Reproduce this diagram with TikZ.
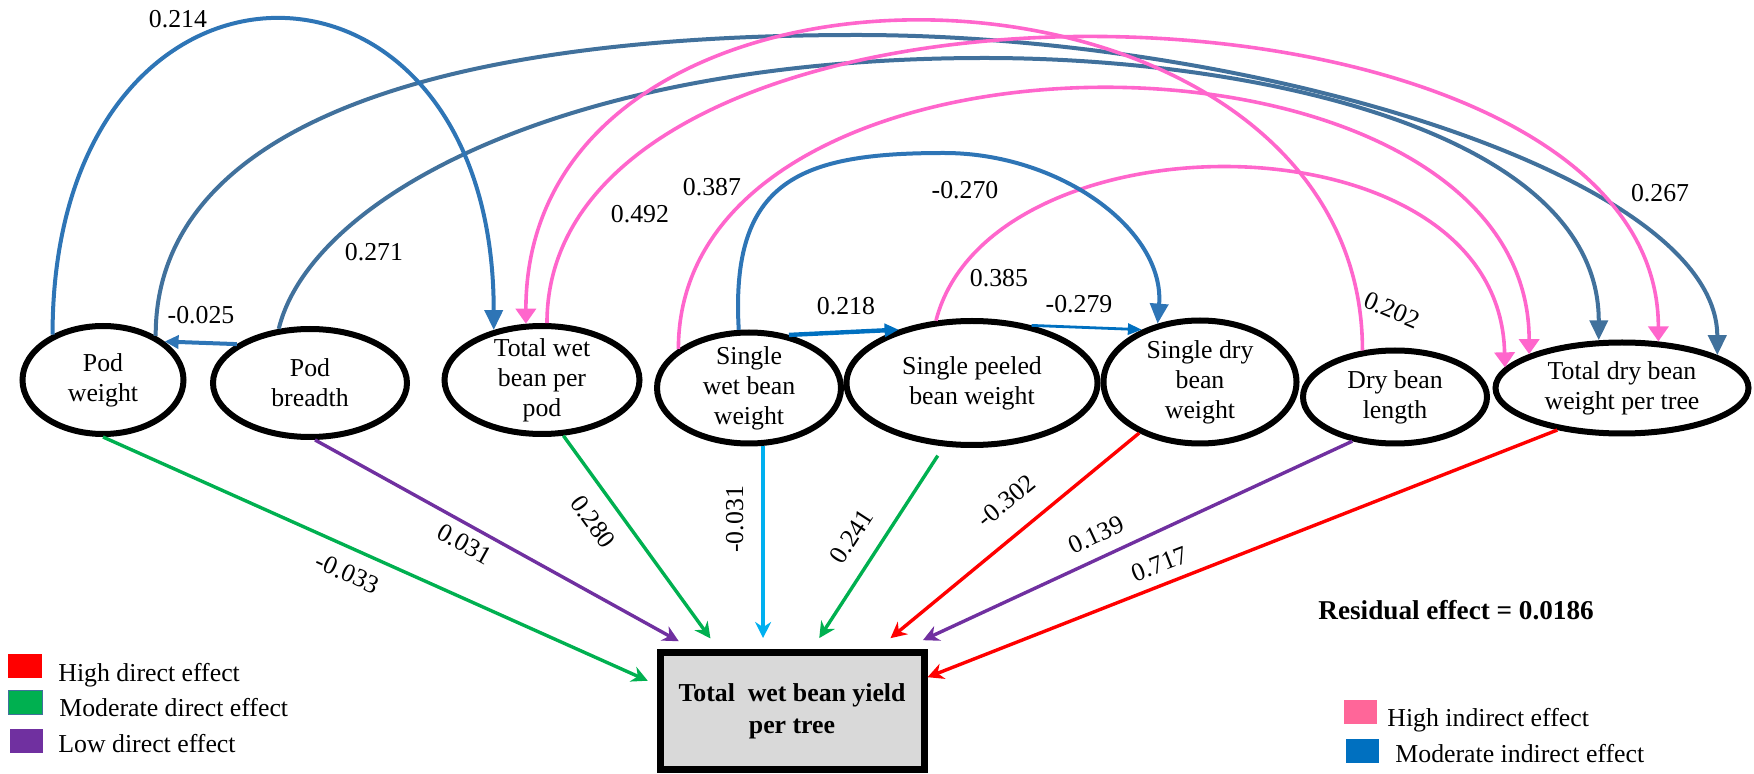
\documentclass[tikz,border=0pt]{standalone}
\usepackage{fontspec}
\setmainfont{Liberation Serif}
\setsansfont{Liberation Serif}
\newfontfamily\timesfont{Liberation Serif}
\usetikzlibrary{shapes.geometric,arrows.meta}
\definecolor{dred}{HTML}{FF0000}
\definecolor{dgreen}{HTML}{00B050}
\definecolor{dpurple}{HTML}{7030A0}
\definecolor{dcyan}{HTML}{00B0F0}
\definecolor{ipink}{HTML}{FF66CC}
\definecolor{iblue}{HTML}{2E75B6}
\definecolor{isteel}{HTML}{41719C}
\definecolor{ideep}{HTML}{0070C0}
\definecolor{keypink}{HTML}{FF6699}
\definecolor{boxgray}{HTML}{D9D9D9}
\begin{document}
\begin{tikzpicture}[x=0.5pt,y=-0.5pt,font=\timesfont\fontsize{12.9}{15}\selectfont]
  \tikzstyle{trait}=[ellipse,draw=black,fill=white,line width=3pt,inner sep=-3pt,align=center]
  \tikzstyle{yieldbox}=[rectangle,draw=black,fill=boxgray,line width=3.5pt,align=center,font=\timesfont\fontsize{12.9}{16}\selectfont\bfseries]
  \tikzstyle{direct}=[line width=1.7pt,-{Stealth[length=8pt,width=8pt]}]
  \tikzstyle{indirect}=[line width=1.8pt,-{Triangle[length=7.5pt,width=10pt]}]
  \tikzstyle{moderate}=[line width=2pt,-{Triangle[length=10pt,width=9pt]}]
  \tikzstyle{coef}=[inner sep=1pt,text=black]
  \tikzstyle{swatch}=[rectangle,inner sep=0pt,minimum width=17pt,minimum height=12pt]
  \tikzstyle{keytext}=[inner sep=0pt,anchor=base west]
  \useasboundingbox (0,0) rectangle (1754,774);

  \node[trait, minimum width=80.5pt, minimum height=54pt] (pw) at (103,380) {Pod\\weight};
  \node[trait, minimum width=97pt, minimum height=54pt] (pb) at (310,383) {Pod\\breadth};
  \node[trait, minimum width=97.5pt, minimum height=54pt] (twb) at (542,380) {Total wet\\bean per\\pod};
  \node[trait, minimum width=92pt, minimum height=55.5pt] (sw) at (749,388) {Single\\wet bean\\weight};
  \node[trait, minimum width=125.5pt, minimum height=62pt] (sp) at (972,383) {Single peeled\\bean weight};
  \node[trait, minimum width=96.5pt, minimum height=61.5pt] (sd) at (1200,382) {Single dry\\bean\\weight};
  \node[trait, minimum width=92pt, minimum height=46.5pt] (dbl) at (1395,397) {Dry bean\\length};
  \node[trait, minimum width=126.5pt, minimum height=45.5pt] (tdb) at (1622,388) {Total dry bean\\weight per tree};
  \node[yieldbox, minimum width=132pt, minimum height=58.5pt] (box) at (792,711) {Total\ \ wet bean yield\\per tree};

  \draw[direct, dgreen, shorten >=4.8pt] (pw.south) -- node[coef, pos=0.46, sloped, below=6pt] (l033) {-0.033} (box.169);
  \draw[direct, dpurple, shorten >=8pt] (pb.-85) -- node[coef, pos=0.42, sloped, below=3pt] (l031) {0.031} (box.148);
  \draw[direct, dgreen, shorten >=6.5pt] (twb.-69) -- node[coef, pos=0.33, sloped, below=7pt] (l280) {0.280} (box.140);
  \draw[direct, dcyan, {Stealth[length=8pt,width=8pt]}-, shorten <=5.5pt] (box.115) -- node[coef, pos=0.64, sloped, above=8pt] (l031v) {-0.031} (box.115 |- sw.south);
  \draw[direct, dgreen, shorten <=5.5pt, shorten >=6.5pt] (sp.-114) -- node[coef, pos=0.52, sloped, above=8pt] (l241) {0.241} (box.72);
  \draw[direct, dred, shorten >=8.5pt] (sd.-140) -- node[coef, pos=0.43, sloped, above=10pt] (l302) {-0.302} (box.36);
  \draw[direct, dpurple, shorten >=10.5pt] (dbl.-134) -- node[coef, pos=0.55, sloped, above=5pt] (l139) {0.139} (box.29);
  \draw[direct, dred] (tdb.-147) -- node[coef, pos=0.62, sloped, above=4pt] (l717) {0.717} (box.14);

  \draw[moderate, isteel] (pw.40) .. controls (155,141) and (399,35) .. (857,35) .. controls (1250,35) and (1717,175) .. (tdb.19);
  \draw[moderate, isteel] (pb.120) .. controls (310,200) and (560,58) .. (985,58) .. controls (1250,58) and (1599,130) .. (tdb.116);
  \draw[indirect, ipink] (twb.85) .. controls +(0,-392) and +(0,-392) .. (tdb.52);
  \draw[indirect, ipink] (dbl.125) .. controls +(0,-420) and +(0,-420) .. (twb.106);
  \draw[indirect, ipink] (sw.151) .. controls +(0,-350) and +(0,-350) .. (tdb.160);
  \draw[indirect, ipink] (sp.120) .. controls (990,110) and (1500,110) .. (tdb.170);
  \draw[moderate, iblue] (pw.138) .. controls +(0,-418) and +(0,-414) .. (twb.134);
  \draw[moderate, iblue] (sw.100) .. controls (730,180) and (800,153) .. (944,153) .. controls (1060,153) and (1165,230) .. (sd.126);
  \draw[line width=2pt, iblue, -{Triangle[length=7pt,width=6.5pt]}] (pb.152) -- (pw.32);
  \draw[line width=2.2pt, ideep, -{Triangle[length=7pt,width=6.5pt]}] (sw.53) -- (sp.144);
  \draw[line width=1.4pt, ideep, -{Triangle[length=7pt,width=5.5pt]}] (sp.44) -- (sd.138);

  \node[coef] (l214) at (178,19) {0.214};
  \node[coef] (l025) at (201,315) {-0.025};
  \node[coef] (l271) at (374,252) {0.271};
  \node[coef] (l492) at (640,214) {0.492};
  \node[coef] (l387) at (712,187) {0.387};
  \node[coef] (l270) at (965,190) {-0.270};
  \node[coef] (l385) at (999,278) {0.385};
  \node[coef] (l218) at (846,306) {0.218};
  \node[coef] (l279) at (1079,304) {-0.279};
  \node[coef, rotate=-23] (l202) at (1392,310) {0.202};
  \node[coef] (l267) at (1660,193) {0.267};

  \node[swatch, fill=dred] (kred) at (25,666) {};
  \node[swatch, fill=dgreen, draw=isteel, line width=0.6pt, minimum width=17pt] (kgreen) at (25.5,702.5) {};
  \node[swatch, fill=dpurple, minimum width=16.5pt] (kpurple) at (26.5,740.5) {};
  \node[keytext] (thd) at (58,681) {High direct effect};
  \node[keytext] (tmd) at (59,716) {Moderate direct effect};
  \node[keytext] (tld) at (58,752) {Low direct effect};

  \node[keytext, font=\timesfont\fontsize{13.6}{15}\selectfont\bfseries] (resid) at (1318,619) {Residual effect = 0.0186};
  \node[swatch, fill=keypink, minimum width=16.5pt] (kpink) at (1360.5,712) {};
  \node[swatch, fill=ideep, minimum width=16.5pt] (kblue) at (1362.5,750.5) {};
  \node[keytext] (thi) at (1387,726) {High indirect effect};
  \node[keytext] (tmi) at (1395,762) {Moderate indirect effect};
\end{tikzpicture}
\end{document}
